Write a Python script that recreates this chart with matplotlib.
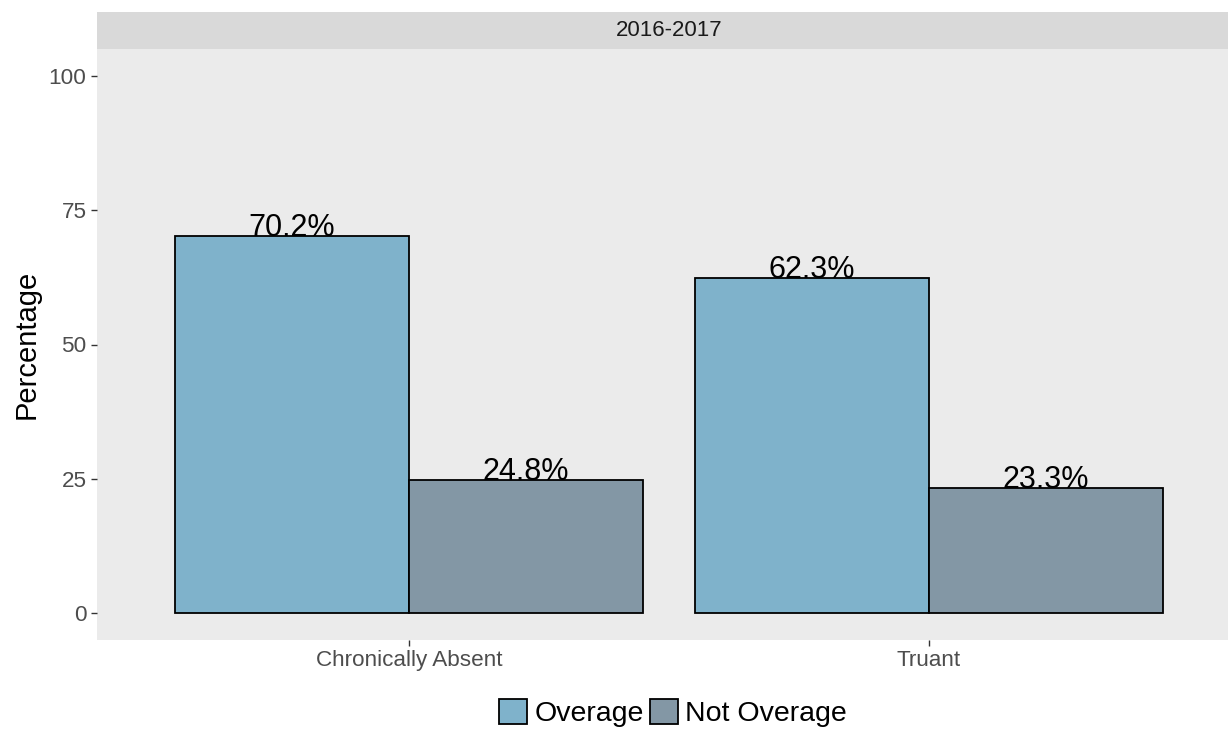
import matplotlib.pyplot as plt
import numpy as np
from matplotlib.patches import Patch

plt.rcParams['font.family'] = ['Liberation Sans', 'DejaVu Sans']

categories = ['Chronically Absent', 'Truant']
groups = ['Overage', 'Not Overage']
overage = [70.2, 62.3]
not_overage = [24.8, 23.3]
colors = ['#7fb2cb', '#8397a5']
facet = '2016-2017'

W, H = 1228, 729
fig = plt.figure(figsize=(W / 100, H / 100), dpi=100)

# panel (runs a little past the right edge, as in the original)
left, right, bottom, top = 97, 1241, 640, 49
ax = fig.add_axes([left / W, 1 - bottom / H, (right - left) / W, (bottom - top) / H])
ax.set_facecolor('#ebebeb')

x = np.arange(len(categories))
width = 0.45
for i, (vals, col) in enumerate(zip([overage, not_overage], colors)):
    pos = x + (i - 0.5) * width
    ax.bar(pos, vals, width=width, color=col, edgecolor='black', linewidth=1.3, zorder=2)
    for p, v in zip(pos, vals):
        ax.text(p, v, f'{v}%', ha='center', va='baseline', fontsize=22, color='black', zorder=3)

ax.set_xlim(-0.6, 1.6)
ax.set_ylim(-5, 105)
ax.set_yticks([0, 25, 50, 75, 100])
ax.set_xticks(x)
ax.set_xticklabels(categories)
ax.tick_params(axis='both', labelsize=16.2, labelcolor='#4d4d4d', color='#333333',
               length=4, width=1)
for s in ax.spines.values():
    s.set_visible(False)
ax.set_ylabel('Percentage', fontsize=21, labelpad=6)

# facet strip
strip = fig.add_axes([left / W, 1 - top / H, (right - left) / W, 37 / H])
strip.set_facecolor('#d9d9d9')
strip.set_xticks([])
strip.set_yticks([])
for s in strip.spines.values():
    s.set_visible(False)
fig.text((97 + 1241) / 2 / W, 1 - 31 / H, facet, ha='center', va='center',
         fontsize=16, color='#1a1a1a')

handles = [Patch(facecolor=c, edgecolor='black', linewidth=1.3, label=g)
           for c, g in zip(colors, groups)]
fig.legend(handles=handles, loc='center', bbox_to_anchor=(673 / W, 1 - 713 / H), ncol=2,
           frameon=False, fontsize=20.5, handlelength=1.0, handleheight=1.0,
           handletextpad=0.25, columnspacing=0.2)

fig.savefig('out.png', dpi=100)
